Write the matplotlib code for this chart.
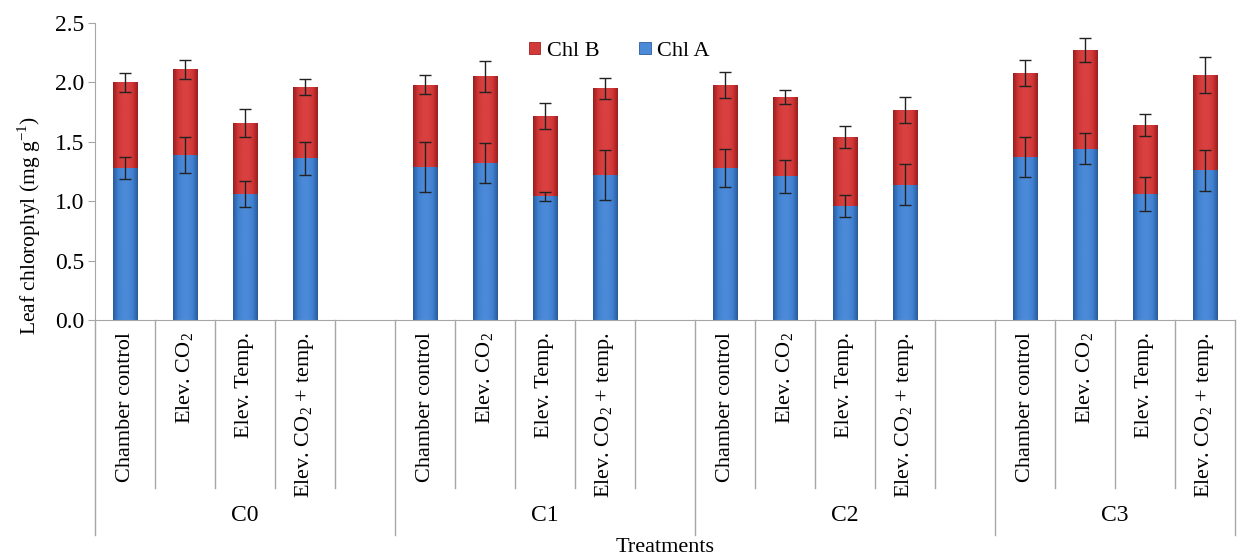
import numpy as np
import matplotlib
matplotlib.use("Agg")
from matplotlib import pyplot as plt
from matplotlib.colors import LinearSegmentedColormap
import matplotlib.transforms as mtransforms

plt.rcParams['font.family'] = ['Liberation Serif', 'DejaVu Serif']
plt.rcParams['mathtext.fontset'] = 'custom'
plt.rcParams['mathtext.rm'] = 'Liberation Serif'

groups = ['C0', 'C1', 'C2', 'C3']
treatments = ['Chamber control', 'Elev. CO$_2$', 'Elev. Temp.', 'Elev. CO$_2$ + temp.']

# chlorophyll a (bottom) and total (a + b)
chl_a = [1.28, 1.39, 1.06, 1.36,
         1.29, 1.32, 1.04, 1.22,
         1.28, 1.21, 0.96, 1.14,
         1.37, 1.44, 1.06, 1.26]
chl_total = [2.00, 2.11, 1.66, 1.96,
             1.98, 2.05, 1.72, 1.95,
             1.98, 1.88, 1.54, 1.77,
             2.08, 2.27, 1.64, 2.06]
err_a = [0.09, 0.15, 0.11, 0.14,
         0.21, 0.17, 0.04, 0.21,
         0.16, 0.14, 0.09, 0.17,
         0.17, 0.13, 0.14, 0.17]
err_total = [0.08, 0.08, 0.12, 0.07,
             0.08, 0.13, 0.11, 0.09,
             0.11, 0.06, 0.09, 0.11,
             0.11, 0.10, 0.09, 0.15]

chl_a = np.array(chl_a)
chl_b = np.array(chl_total) - chl_a

# 5 slots per group (4 bars + gap), last group has no trailing gap
x = []
for g in range(len(groups)):
    for t in range(len(treatments)):
        x.append(g * 5 + t)
x = np.array(x)
n_slots = 5 * len(groups) - 1

fig = plt.figure(figsize=(12.37, 5.57), dpi=100)
ax = fig.add_axes([95 / 1237, 1 - 320 / 557, 1140 / 1237, 297 / 557])

w = 0.41
blue_cmap = LinearSegmentedColormap.from_list('b', ['#2a5b9a', '#3f80d0', '#4a8ad8', '#4a8ad8', '#3f80d0', '#2a5b9a'])
red_cmap = LinearSegmentedColormap.from_list('r', ['#9a1e1e', '#cf3535', '#d94040', '#d94040', '#cf3535', '#9a1e1e'])
bars_a = ax.bar(x, chl_a, w, color='#4a8ad6', edgecolor='#2c5d9c', linewidth=0.6, label='Chl A', zorder=2)
bars_b = ax.bar(x, chl_b, w, bottom=chl_a, color='#d23a3a', edgecolor='#9e1f1f', linewidth=0.6, label='Chl B', zorder=2)

grad = np.linspace(0, 1, 64).reshape(1, -1)
for bars, cmap in [(bars_a, blue_cmap), (bars_b, red_cmap)]:
    for p in bars:
        x0, y0 = p.get_x(), p.get_y()
        im = ax.imshow(grad, cmap=cmap, aspect='auto', zorder=2.5,
                       extent=[x0, x0 + p.get_width(), y0, y0 + p.get_height()])
        im.set_clip_path(p)

ax.errorbar(x, chl_a, yerr=err_a, fmt='none', ecolor='#222222', elinewidth=1, capsize=4, zorder=4)
ax.errorbar(x, chl_total, yerr=err_total, fmt='none', ecolor='#222222', elinewidth=1, capsize=4, zorder=4)

ax.set_xlim(-0.5, n_slots - 0.5)
ax.set_ylim(0, 2.5)
ax.set_yticks(np.arange(0, 2.51, 0.5))
ax.set_yticklabels(['%.1f' % v for v in np.arange(0, 2.51, 0.5)], fontsize=17)
ax.set_xticks([])
for s in ['top', 'right']:
    ax.spines[s].set_visible(False)
ax.spines['left'].set_color('#a6a6a6')
ax.spines['bottom'].set_color('#a6a6a6')
ax.tick_params(axis='y', color='#a6a6a6', length=5, pad=3)
ax.set_ylabel('Leaf chlorophyl (mg g$^{-1}$)', fontsize=15.5)
ax.yaxis.set_label_coords(-0.046, 0.32)

# hierarchical category axis
trans = mtransforms.blended_transform_factory(ax.transData, ax.transAxes)
for xi, lbl in zip(x, treatments * len(groups)):
    ax.text(xi, -0.04, lbl, rotation=90, ha='center', va='top', fontsize=16, transform=trans)
for b in range(n_slots + 1):
    xb = b - 0.5
    if b % 5 == 0 or b == n_slots:
        y_end = -0.724
    else:
        y_end = -0.566
    ax.plot([xb, xb], [0, y_end], color='#a6a6a6', lw=1, transform=trans, clip_on=False)
for g, name in enumerate(groups):
    start = g * 5 - 0.5
    end = min(g * 5 + 4.5, n_slots - 0.5)
    ax.text((start + end) / 2, -0.657, name, ha='center', va='center', fontsize=17, transform=trans)
fig.text(0.5 * (95 + 1235) / 1237, 1 - 548 / 557, 'Treatments', ha='center', va='center', fontsize=16)

handles, labels = ax.get_legend_handles_labels()
ax.legend(handles[::-1], labels[::-1], loc='upper center', bbox_to_anchor=(0.46, 1.005), ncol=2,
          frameon=False, fontsize=16, handlelength=0.5, handleheight=0.5, columnspacing=1.8, handletextpad=0.3)

fig.savefig('out.png', dpi=100)
